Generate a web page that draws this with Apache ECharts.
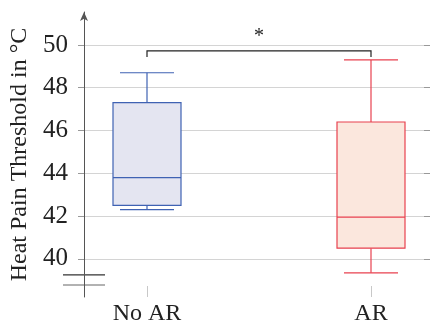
<!DOCTYPE html>
<html>
<head>
<meta charset="utf-8">
<script src="https://cdn.jsdelivr.net/npm/echarts@6/dist/echarts.min.js"></script>
<style>
  html, body { margin: 0; padding: 0; background: #fff; }
  #chart { width: 432px; height: 326px; }
</style>
</head>
<body>
<div id="chart"></div>
<script>
const categories = ["No AR", "AR"];
// [low whisker, Q1, median, Q3, high whisker]
const noArBox = [42.3, 42.5, 43.8, 47.3, 48.7];
const arBox = [39.35, 40.5, 41.95, 46.4, 49.3];
const yTicks = [40, 42, 44, 46, 48, 50];
const yMin = 38.22;
const yMax = 51.54;
const yTitle = "Heat Pain Threshold in °C";
const sigLevel = 49.72;
const sigMark = "*";
const breakValues = [39.25, 38.78];

const font = "Liberation Serif";
const boxStyles = [
  { fill: "#e4e5f1", stroke: "#3f62b3" },
  { fill: "#fbe7dd", stroke: "#e8414f" },
];
const boxHalf = 34;
const capHalf = 27;

const chart = echarts.init(document.getElementById("chart"));

function renderBox(params, api) {
  const i = api.value(0);
  const st = boxStyles[i];
  const lo = api.coord([i, api.value(1)]);
  const q1 = api.coord([i, api.value(2)]);
  const med = api.coord([i, api.value(3)]);
  const q3 = api.coord([i, api.value(4)]);
  const hi = api.coord([i, api.value(5)]);
  const x = lo[0];
  const lineStyle = { stroke: st.stroke, lineWidth: 1.2 };
  return {
    type: "group",
    children: [
      { type: "line", shape: { x1: x, y1: lo[1], x2: x, y2: q1[1] }, style: lineStyle },
      { type: "line", shape: { x1: x, y1: q3[1], x2: x, y2: hi[1] }, style: lineStyle },
      { type: "line", shape: { x1: x - capHalf, y1: lo[1], x2: x + capHalf, y2: lo[1] }, style: lineStyle },
      { type: "line", shape: { x1: x - capHalf, y1: hi[1], x2: x + capHalf, y2: hi[1] }, style: lineStyle },
      {
        type: "rect",
        shape: { x: x - boxHalf, y: q3[1], width: boxHalf * 2, height: q1[1] - q3[1] },
        style: { fill: st.fill, stroke: st.stroke, lineWidth: 1.2 },
      },
      { type: "line", shape: { x1: x - boxHalf, y1: med[1], x2: x + boxHalf, y2: med[1] }, style: lineStyle },
    ],
  };
}

chart.setOption({
  animation: false,
  grid: [
    { left: 84, right: 2, top: 12, bottom: 29 },
    // boxes sit on the ends of this second grid
    { left: 147, right: 61, top: 12, bottom: 29 },
  ],
  xAxis: [
    { gridIndex: 0, type: "value", show: false },
    {
      gridIndex: 1,
      type: "category",
      data: categories,
      boundaryGap: false,
      axisLine: { show: false },
      axisTick: {
        inside: true,
        length: 11,
        lineStyle: { color: "#c8c8c8" },
      },
      axisLabel: { fontFamily: font, fontSize: 24, color: "#222", margin: 5 },
    },
  ],
  yAxis: [
    {
      gridIndex: 0,
      type: "value",
      min: yMin,
      max: yMax,
      name: yTitle,
      nameLocation: "middle",
      nameGap: 50,
      nameTextStyle: { fontFamily: font, fontSize: 24, color: "#222" },
      axisLine: {
        show: true,
        symbol: ["none", "arrow"],
        symbolSize: [6, 9],
        lineStyle: { color: "#555", width: 1 },
      },
      axisTick: {
        show: true,
        customValues: yTicks,
        length: 6,
        lineStyle: { color: "#999" },
      },
      axisLabel: {
        customValues: yTicks,
        fontFamily: font,
        fontSize: 25,
        color: "#222",
        margin: 16,
      },
      splitLine: { show: true, lineStyle: { color: "#d4d4d4", width: 1 } },
    },
    {
      gridIndex: 0,
      type: "value",
      min: yMin,
      max: yMax,
      axisLine: { show: false },
      axisTick: {
        show: true,
        inside: true,
        customValues: yTicks,
        length: 6,
        lineStyle: { color: "#999" },
      },
      axisLabel: { show: false },
      splitLine: { show: false },
    },
    {
      gridIndex: 1,
      type: "value",
      min: yMin,
      max: yMax,
      show: false,
    },
  ],
  series: [
    {
      type: "custom",
      xAxisIndex: 1,
      yAxisIndex: 2,
      renderItem: renderBox,
      data: [
        [0].concat(noArBox),
        [1].concat(arBox),
      ],
    },
  ],
});

// significance bracket and axis break, placed through the axes
const p0 = chart.convertToPixel({ xAxisIndex: 1, yAxisIndex: 2 }, [categories[0], sigLevel]);
const p1 = chart.convertToPixel({ xAxisIndex: 1, yAxisIndex: 2 }, [categories[1], sigLevel]);
const legY = chart.convertToPixel({ yAxisIndex: 2 }, sigLevel - 0.28);
const axisX = chart.convertToPixel({ xAxisIndex: 0 }, chart.getModel().getComponent("xAxis", 0).axis.scale.getExtent()[0]);
const b0 = chart.convertToPixel({ yAxisIndex: 0 }, breakValues[0]);
const b1 = chart.convertToPixel({ yAxisIndex: 0 }, breakValues[1]);

chart.setOption({
  graphic: [
    {
      type: "polyline",
      shape: { points: [[p0[0], legY], [p0[0], p0[1]], [p1[0], p1[1]], [p1[0], legY]] },
      style: { stroke: "#222", lineWidth: 1.2, fill: null },
    },
    {
      type: "text",
      x: (p0[0] + p1[0]) / 2,
      y: p0[1] - 14,
      style: { text: sigMark, font: "20px " + font, fill: "#222", align: "center", verticalAlign: "middle" },
    },
    {
      type: "rect",
      shape: { x: axisX - 3, y: b0 + 1, width: 6, height: b1 - b0 - 2 },
      style: { fill: "#fff" },
    },
    {
      type: "line",
      shape: { x1: axisX - 21, y1: b0, x2: axisX + 21, y2: b0 },
      style: { stroke: "#333", lineWidth: 1.2 },
    },
    {
      type: "line",
      shape: { x1: axisX - 21, y1: b1, x2: axisX + 21, y2: b1 },
      style: { stroke: "#666", lineWidth: 1.2 },
    },
  ],
});
</script>
</body>
</html>
